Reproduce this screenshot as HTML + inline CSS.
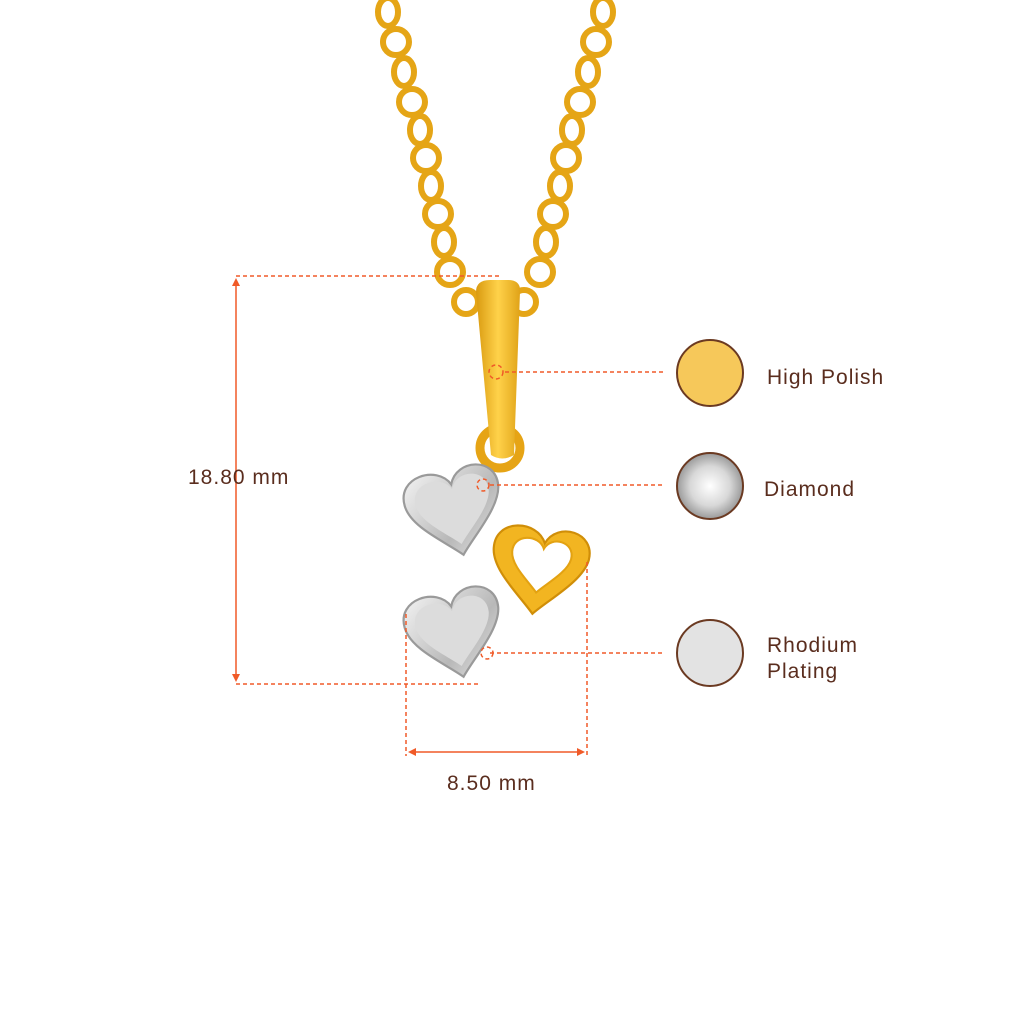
<!DOCTYPE html>
<html><head><style>
body{margin:0;background:#fff}
svg{display:block}
text{font-family:"Liberation Sans",sans-serif;fill:#5a2d1e;font-size:21px;letter-spacing:1px}
</style></head><body>
<svg width="1024" height="1024" viewBox="0 0 1024 1024" xmlns="http://www.w3.org/2000/svg">
<defs>
<linearGradient id="g" x1="0" x2="1"><stop offset="0" stop-color="#d99a10"/><stop offset=".5" stop-color="#ffd24a"/><stop offset="1" stop-color="#e0a318"/></linearGradient>
<linearGradient id="s" x1="0" x2="1" y1="0" y2="1"><stop offset="0" stop-color="#f4f4f4"/><stop offset=".6" stop-color="#b8b8b8"/><stop offset="1" stop-color="#e8e8e8"/></linearGradient>
<radialGradient id="d"><stop offset="0" stop-color="#fff"/><stop offset=".6" stop-color="#d8d8d8"/><stop offset="1" stop-color="#9a9a9a"/></radialGradient>
<path id="heart" d="M0,-20 C-10,-40 -48,-35 -45,-8 C-43,12 -15,30 0,45 C12,30 40,8 42,-12 C44,-38 8,-42 0,-20 Z"/>
</defs>
<g fill="none" stroke="#e5a516" stroke-width="6">
<ellipse cx="388" cy="12" rx="10" ry="14"/><ellipse cx="396" cy="42" rx="13" ry="13"/><ellipse cx="404" cy="72" rx="10" ry="14"/><ellipse cx="412" cy="102" rx="13" ry="13"/><ellipse cx="420" cy="130" rx="10" ry="14"/><ellipse cx="426" cy="158" rx="13" ry="13"/><ellipse cx="431" cy="186" rx="10" ry="14"/><ellipse cx="438" cy="214" rx="13" ry="13"/><ellipse cx="444" cy="242" rx="10" ry="14"/><ellipse cx="450" cy="272" rx="13" ry="13"/><ellipse cx="466" cy="302" rx="12" ry="12"/>
<ellipse cx="603" cy="12" rx="10" ry="14"/><ellipse cx="596" cy="42" rx="13" ry="13"/><ellipse cx="588" cy="72" rx="10" ry="14"/><ellipse cx="580" cy="102" rx="13" ry="13"/><ellipse cx="572" cy="130" rx="10" ry="14"/><ellipse cx="566" cy="158" rx="13" ry="13"/><ellipse cx="560" cy="186" rx="10" ry="14"/><ellipse cx="553" cy="214" rx="13" ry="13"/><ellipse cx="546" cy="242" rx="10" ry="14"/><ellipse cx="540" cy="272" rx="13" ry="13"/><ellipse cx="524" cy="302" rx="12" ry="12"/>
</g>
<circle cx="500" cy="448" r="20" fill="none" stroke="#e6a415" stroke-width="9"/>
<path d="M476,292 Q476,280 490,280 L508,280 Q521,280 520,292 L514,455 Q502,462 491,455 Z" fill="url(#g)"/>
<g transform="translate(455,506) rotate(-10) scale(1.1)"><use href="#heart" fill="url(#s)" stroke="#9a9a9a" stroke-width="2"/><use href="#heart" transform="scale(.78)" fill="#dcdcdc"/></g>
<g transform="translate(541,565) rotate(10) scale(1.1)"><use href="#heart" fill="#f2b521" stroke="#d08e08" stroke-width="2"/><use href="#heart" transform="scale(.62) translate(0,-4)" fill="#fff" stroke="#e3a212" stroke-width="3"/></g>
<g transform="translate(455,628) rotate(-10) scale(1.1)"><use href="#heart" fill="url(#s)" stroke="#9a9a9a" stroke-width="2"/><use href="#heart" transform="scale(.78)" fill="#dcdcdc"/></g>
<g stroke="#f05a28" stroke-width="1.5" fill="none">
<g stroke-dasharray="4,3">
<line x1="236" y1="276" x2="500" y2="276"/><line x1="236" y1="684" x2="480" y2="684"/>
<line x1="406" y1="614" x2="406" y2="756"/><line x1="587" y1="562" x2="587" y2="756"/>
<line x1="505" y1="372" x2="665" y2="372"/><line x1="490" y1="485" x2="665" y2="485"/><line x1="490" y1="653" x2="665" y2="653"/>
<circle cx="496" cy="372" r="7"/><circle cx="483" cy="485" r="6"/><circle cx="487" cy="653" r="6"/>
</g>
<line x1="236" y1="282" x2="236" y2="678"/><line x1="412" y1="752" x2="581" y2="752"/>
</g>
<g fill="#f05a28"><path d="M236,278 l-4,8 h8z"/><path d="M236,682 l-4,-8 h8z"/><path d="M408,752 l8,-4 v8z"/><path d="M585,752 l-8,-4 v8z"/></g>
<circle cx="710" cy="373" r="33" fill="#f6c85a" stroke="#6b3a22" stroke-width="2"/>
<circle cx="710" cy="486" r="33" fill="url(#d)" stroke="#6b3a22" stroke-width="2"/>
<circle cx="710" cy="653" r="33" fill="#e3e3e3" stroke="#6b3a22" stroke-width="2"/>
<text x="188" y="484">18.80 mm</text>
<text x="447" y="790">8.50 mm</text>
<text x="767" y="384">High Polish</text>
<text x="764" y="496">Diamond</text>
<text x="767" y="652">Rhodium</text>
<text x="767" y="678">Plating</text>
</svg>
</body></html>
